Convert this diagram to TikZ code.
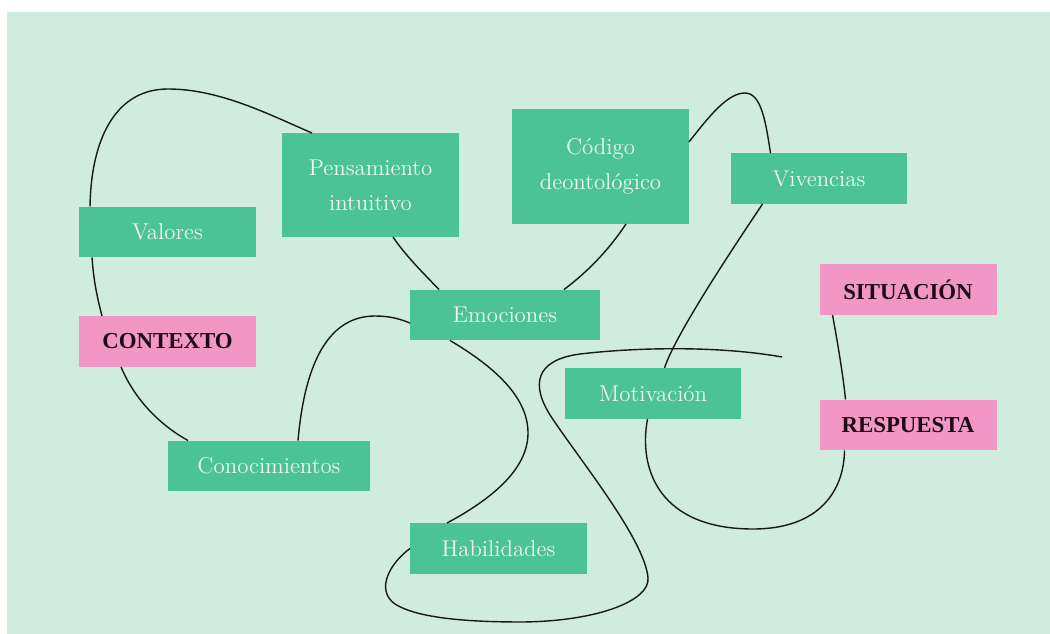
\documentclass[tikz,border=0pt]{standalone}
\usepackage{fontspec}
\newfontfamily\clavefont{Liberation Serif}
\usetikzlibrary{calc, positioning}
\definecolor{fondo}{HTML}{D0ECDE}
\definecolor{verdecaja}{HTML}{4BC396}
\definecolor{rosacaja}{HTML}{F296C6}
\definecolor{textoclaro}{HTML}{EEF8F2}
\definecolor{textooscuro}{HTML}{1E0B16}

\begin{document}
\begin{tikzpicture}[
  x=0.02cm, y=-0.02cm,
  caja/.style={fill=verdecaja, text=textoclaro, inner sep=0pt, outer sep=0pt,
               minimum width=3.54cm, minimum height=1.02cm, align=center,
               font=\fontsize{13}{20}\selectfont},
  clave/.style={caja, fill=rosacaja, text=textooscuro,
               font=\clavefont\fontsize{13}{15}\selectfont\bfseries},
  lazo/.style={line width=0.8pt, black!90}
]

\useasboundingbox (0,0) rectangle (1050,634);
\fill[fondo] (7,12) rectangle (1050,634);

\node[caja] (valores) at (167.5, 232) {Valores};
\node[clave] (contexto) at (167.5, 341.5) {CONTEXTO};
\node[caja, minimum width=4.04cm] (conoc) at (269, 466) {Conocimientos};
\node[caja, minimum height=2.08cm] (pensam) at (370.5, 185)
  {Pensamiento\\intuitivo};
\node[caja, minimum height=2.3cm] (codigo) at (600.5, 166.5)
  {Código\\deontológico};
\node[caja] (vivencias) at (819, 178.5) {Vivencias};
\node[clave] (situacion) at (908, 289.5) {SITUACIÓN};
\node[clave] (respuesta) at (908, 425) {RESPUESTA};
\node[caja, minimum width=3.8cm] (emociones) at (505, 315) {Emociones};
\node[caja] (motivacion) at (653, 393.5) {Motivación};
\node[caja] (habilidades) at (498.5, 548.5) {Habilidades};

\coordinate (fin) at (782, 357);

\draw[lazo] ($(valores.north west)+(11,0)$)
  .. controls (91,140) and (115,89) .. (168,89)
  .. controls (220,89) and (270,115) .. ($(pensam.north west)+(30,0)$);
\draw[lazo] ($(valores.south west)+(13,0)$)
  .. controls (94,285) and (98,300) .. ($(contexto.north west)+(23,0)$);
\draw[lazo] ($(contexto.south west)+(42,0)$)
  .. controls (135,400) and (160,425) .. ($(conoc.north west)+(20,0)$);
\draw[lazo] ($(conoc.north west)+(130,0)$)
  .. controls (305,360) and (330,316) .. (375,316)
  .. controls (390,316) and (400,319) .. ($(emociones.west)+(0,8)$);
\draw[lazo] ($(pensam.south west)+(111,0)$)
  .. controls (405,255) and (425,275) .. ($(emociones.north west)+(29,0)$);
\draw[lazo] ($(codigo.south west)+(114,0)$)
  .. controls (610,248) and (590,270) .. ($(emociones.north west)+(154,0)$);
\draw[lazo] ($(emociones.south west)+(40,0)$)
  .. controls (500,370) and (528,400) .. (528,433)
  .. controls (528,470) and (490,500) .. ($(habilidades.north west)+(37,0)$);
\draw[lazo] (habilidades.west)
  .. controls (390,563) and (375,590) .. (395,604)
  .. controls (420,620) and (480,622) .. (523,622)
  .. controls (600,621) and (650,600) .. (648,578)
  .. controls (645,540) and (580,460) .. (552,418)
  .. controls (530,385) and (535,360) .. (580,354)
  .. controls (640,347) and (720,346) .. (fin);
\draw[lazo] ($(codigo.north east)+(0,33)$)
  .. controls (710,115) and (728,93) .. (745,93)
  .. controls (762,93) and (766,125) .. ($(vivencias.north west)+(40,0)$);
\draw[lazo] ($(vivencias.south west)+(32,0)$)
  .. controls (735,245) and (675,335) .. ($(motivacion.north west)+(100,0)$);
\draw[lazo] ($(motivacion.south west)+(83,0)$)
  .. controls (638,470) and (660,529) .. (753,529)
  .. controls (820,529) and (844,490) .. ($(respuesta.south west)+(25,0)$);
\draw[lazo] ($(situacion.south west)+(13,0)$)
  .. controls (838,345) and (843,375) .. ($(respuesta.north west)+(26,0)$);

\end{tikzpicture}
\end{document}
